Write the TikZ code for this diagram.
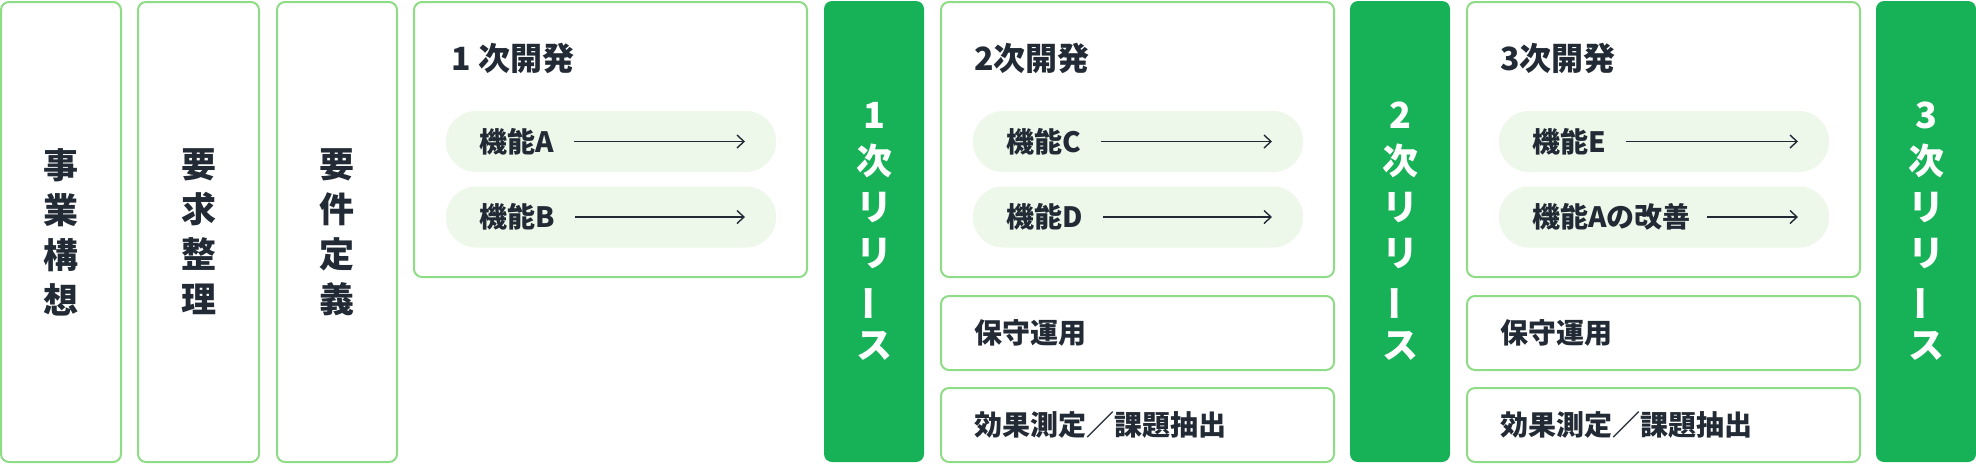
\documentclass[tikz,border=0pt]{standalone}
\usepackage{fontspec}
\setmainfont{Noto Sans CJK JP}
\usetikzlibrary{arrows.meta}
\definecolor{bordergreen}{HTML}{8FDC87}
\definecolor{relgreen}{HTML}{17B257}
\definecolor{pillfill}{HTML}{EEF8EA}
\definecolor{ink}{HTML}{222B35}
\tikzset{
 frame/.style={draw=bordergreen, line width=1pt, rounded corners=4pt, fill=white, inner sep=0pt},
 narrow/.style={frame, minimum width=60pt, minimum height=230pt, font=\bfseries\fontsize{17.5}{22.5}\selectfont, text=ink, align=center},
 devbox/.style={frame, minimum width=196.5pt, minimum height=137.5pt},
 subbox/.style={frame, minimum width=196.5pt, minimum height=37pt},
 release/.style={fill=relgreen, rounded corners=4pt, inner sep=0pt, minimum width=50pt, minimum height=230.5pt, text=white, font=\bfseries\fontsize{18}{23}\selectfont, align=center},
 rbar/.style={rotate=90, inner sep=0pt, text=white, font=\bfseries\fontsize{18}{23}\selectfont},
 title/.style={font=\bfseries\fontsize{16}{19}\selectfont, text=ink, anchor=west, inner sep=0pt},
 pill/.style={fill=pillfill, rounded corners=15pt, inner sep=0pt, minimum width=165pt, minimum height=30.5pt},
 plabel/.style={font=\bfseries\fontsize{14}{17}\selectfont, text=ink, anchor=west, inner sep=0pt},
 arr/.style={-{Straight Barb[length=3.5pt,width=6.5pt]}, draw=ink, line width=0.7pt},
}
\begin{document}
\begin{tikzpicture}[x=0.5pt,y=-0.5pt]
\useasboundingbox (0,0) rectangle (1976,463);
% left columns
\node[narrow] (b1) at (61,232) {事\\業\\構\\想};
\node[narrow, minimum width=60.5pt] (b2) at (198.5,232) {要\\求\\整\\理};
\node[narrow] (b3) at (337,232) {要\\件\\定\\義};
% releases
\node[release] (r1) at (874,231.5) {1\\次\\リ\\リ\\\phantom{ス}\\ス};
\node[release] (r2) at (1400,231.5) {2\\次\\リ\\リ\\\phantom{ス}\\ス};
\node[release] (r3) at (1926,231.5) {3\\次\\リ\\リ\\\phantom{ス}\\ス};
\node[rbar] (r1bar) at (874,303) {ー};
\node[rbar] (r2bar) at (1400,303) {ー};
\node[rbar] (r3bar) at (1926,303) {ー};
% dev 1
\node[devbox] (d1) at (610.5,139.5) {};
\node[title] (t1) at (451,58) {1 次開発};
\node[pill] (p1a) at (611,141.5) {};
\node[pill] (p1b) at (611,217) {};
\node[plabel] (l1a) at (479,141.5) {機能A};
\node[plabel] (l1b) at (479,217) {機能B};
\coordinate (e1a) at (745,141.5);
\coordinate (e1b) at (745,217);
\draw[arr] ([xshift=10pt]l1a.east) -- (e1a);
\draw[arr] ([xshift=10pt]l1b.east) -- (e1b);
% dev 2
\node[devbox] (d2) at (1137.5,139.5) {};
\node[title] (t2) at (974,58) {2次開発};
\node[pill] (p2a) at (1138,141.5) {};
\node[pill] (p2b) at (1138,217) {};
\node[plabel] (l2a) at (1006,141.5) {機能C};
\node[plabel] (l2b) at (1006,217) {機能D};
\coordinate (e2a) at (1272,141.5);
\coordinate (e2b) at (1272,217);
\draw[arr] ([xshift=10pt]l2a.east) -- (e2a);
\draw[arr] ([xshift=10pt]l2b.east) -- (e2b);
\node[subbox] (s2a) at (1137.5,333) {};
\node[subbox] (s2b) at (1137.5,425) {};
\node[plabel] (m2a) at (974,333) {保守運用};
\node[plabel] (m2b) at (974,425) {効果測定／課題抽出};
% dev 3
\node[devbox] (d3) at (1663.5,139.5) {};
\node[title] (t3) at (1500,58) {3次開発};
\node[pill] (p3a) at (1664,141.5) {};
\node[pill] (p3b) at (1664,217) {};
\node[plabel] (l3a) at (1532,141.5) {機能E};
\node[plabel] (l3b) at (1532,217) {機能Aの改善};
\coordinate (e3a) at (1798,141.5);
\coordinate (e3b) at (1798,217);
\draw[arr] ([xshift=10pt]l3a.east) -- (e3a);
\draw[arr] ([xshift=8pt]l3b.east) -- (e3b);
\node[subbox] (s3a) at (1663.5,333) {};
\node[subbox] (s3b) at (1663.5,425) {};
\node[plabel] (m3a) at (1500,333) {保守運用};
\node[plabel] (m3b) at (1500,425) {効果測定／課題抽出};
\end{tikzpicture}
\end{document}
